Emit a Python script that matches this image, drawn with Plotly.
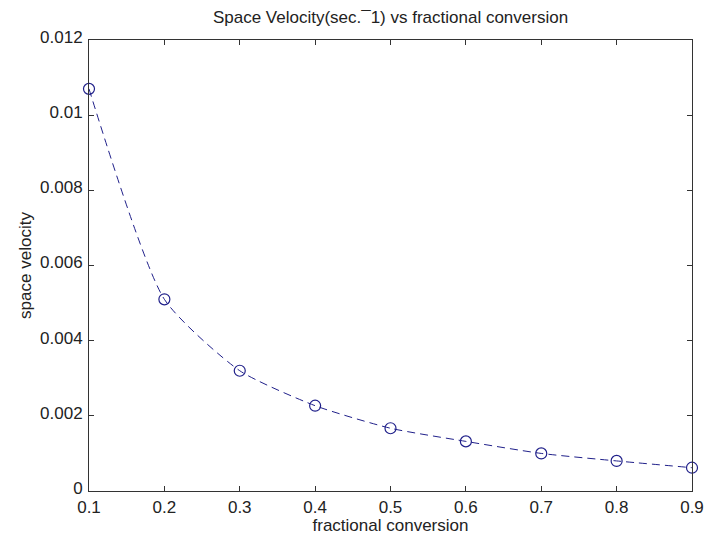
import plotly.graph_objects as go

conversion = [0.1, 0.2, 0.3, 0.4, 0.5, 0.6, 0.7, 0.8, 0.9]
space_velocity = [0.0107, 0.0051, 0.0032, 0.00227, 0.00167, 0.00132, 0.00100, 0.00080, 0.00062]
x_ticks = [0.1, 0.2, 0.3, 0.4, 0.5, 0.6, 0.7, 0.8, 0.9]
y_ticks = [0, 0.002, 0.004, 0.006, 0.008, 0.01, 0.012]
y_tick_text = ["0", "0.002", "0.004", "0.006", "0.008", "0.01", "0.012"]

navy = "#20208a"
text_color = "#222222"
font_family = "Liberation Sans, Arial, sans-serif"
fs = 17

W, H = 704, 535

fig = go.Figure()
fig.add_trace(go.Scatter(
    x=conversion, y=space_velocity,
    mode="lines+markers",
    line=dict(color=navy, width=1, dash="8px,5px", shape="spline", smoothing=0.6),
    marker=dict(symbol="circle-open", size=11, color=navy, line=dict(width=1.2, color=navy)),
    showlegend=False,
    cliponaxis=False,
))

axis_common = dict(
    showgrid=False, zeroline=False, showline=True, linecolor="#333333", linewidth=1,
    mirror="ticks", ticks="inside", ticklen=5, tickcolor="#333333",
    automargin=False,
    tickfont=dict(family=font_family, size=fs, color=text_color),
)

fig.update_layout(
    width=W, height=H,
    margin=dict(l=89, r=12, t=40, b=44),
    paper_bgcolor="white", plot_bgcolor="white",
    title=dict(text="Space Velocity(sec.\u00af1) vs fractional conversion",
               x=0.5, xref="paper", xanchor="center",
               y=1 - 17 / H, yref="container", yanchor="middle", automargin=False,
               font=dict(family=font_family, size=fs, color=text_color)),
    xaxis=dict(range=[0.1, 0.9], tickvals=x_ticks, ticktext=[str(v) for v in x_ticks],
               ticklabelstandoff=1,
               title=dict(text="fractional conversion", standoff=1,
                          font=dict(family=font_family, size=fs, color=text_color)),
               **axis_common),
    yaxis=dict(range=[0, 0.012], tickvals=y_ticks, ticktext=y_tick_text,
               ticklabelstandoff=2, ticklabelshift=-3,
               title=dict(text="space velocity", standoff=4,
                          font=dict(family=font_family, size=fs, color=text_color)),
               **axis_common),
)

fig.write_html(
    "out.html",
    config={"displayModeBar": False},
    post_script="document.body.style.margin='0';document.body.style.overflow='hidden';",
)
